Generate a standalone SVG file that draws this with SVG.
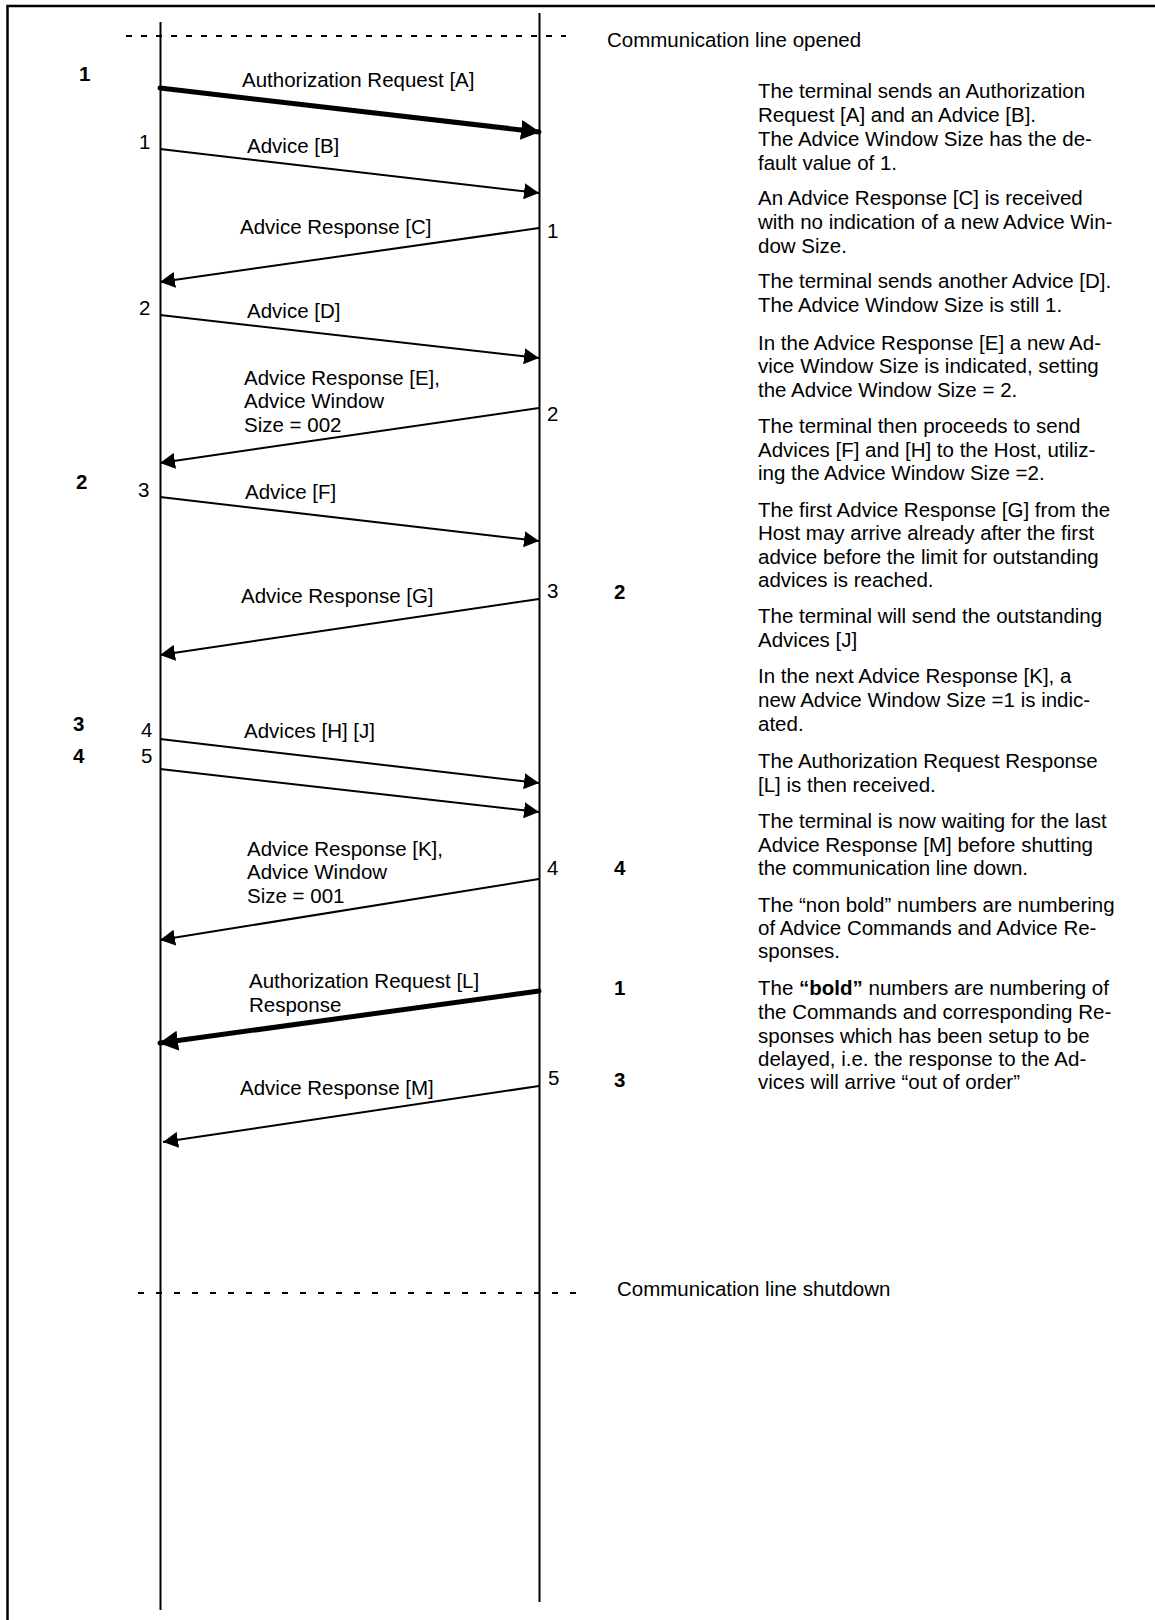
<svg xmlns="http://www.w3.org/2000/svg" width="1155" height="1620" viewBox="0 0 1155 1620">
<style>
text{font-family:"Liberation Sans",Arial,Helvetica,sans-serif;font-size:20.5px;fill:#000}
.b{font-weight:bold}
.life{stroke:#000;stroke-width:2;fill:none}
.msg{stroke:#000;stroke-width:2;fill:none;marker-end:url(#ah)}
.thick{stroke:#000;stroke-width:5;fill:none;stroke-linecap:round;marker-end:url(#ahb)}
.dash{stroke:#000;stroke-width:2;fill:none}
</style>
<defs>
<marker id="ah" markerUnits="userSpaceOnUse" markerWidth="16" markerHeight="16" refX="15" refY="8" orient="auto">
<path d="M0,0 L15,8 L0,16 z" fill="#000"/>
</marker>
<marker id="ahb" markerUnits="userSpaceOnUse" markerWidth="20" markerHeight="22" refX="18" refY="11" orient="auto">
<path d="M0,1 L19,11 L0,21 z" fill="#000"/>
</marker>
</defs>
<rect width="1155" height="1620" fill="#fff"/>
<path d="M7.5,1620 V6 H1155" stroke="#000" stroke-width="2.5" fill="none"/>

<g id="terminal">
<line class="life" x1="160.5" y1="22" x2="160.5" y2="1610"/>
</g>
<g id="host">
<line class="life" x1="539.5" y1="13" x2="539.5" y2="1602"/>
</g>

<g id="line-opened">
<line class="dash" x1="126" y1="36" x2="566" y2="36" stroke-dasharray="6 9"/>
<text x="607" y="47">Communication line opened</text>
</g>
<g id="line-shutdown">
<line class="dash" x1="138" y1="1293" x2="578" y2="1293" stroke-dasharray="6 12"/>
<text x="617" y="1296">Communication line shutdown</text>
</g>

<g id="connectors">
<line id="msg-A" class="thick" x1="160" y1="88" x2="539" y2="132"/>
<line id="msg-B" class="msg" x1="160" y1="149" x2="539" y2="193"/>
<line id="msg-C" class="msg" x1="539" y1="228" x2="160" y2="282"/>
<line id="msg-D" class="msg" x1="160" y1="315" x2="539" y2="358"/>
<line id="msg-E" class="msg" x1="539" y1="408" x2="160" y2="463"/>
<line id="msg-F" class="msg" x1="160" y1="497" x2="539" y2="541"/>
<line id="msg-G" class="msg" x1="539" y1="599" x2="160" y2="655"/>
<line id="msg-H" class="msg" x1="160" y1="739" x2="539" y2="783"/>
<line id="msg-J" class="msg" x1="160" y1="769" x2="539" y2="812"/>
<line id="msg-K" class="msg" x1="539" y1="879" x2="160" y2="940"/>
<line id="msg-L" class="thick" x1="539" y1="991" x2="160" y2="1043"/>
<line id="msg-M" class="msg" x1="539" y1="1086" x2="163" y2="1142"/>
</g>

<g id="message-labels">
<text x="242" y="87">Authorization Request [A]</text>
<text x="247" y="153">Advice [B]</text>
<text x="240" y="234">Advice Response [C]</text>
<text x="247" y="318">Advice [D]</text>
<text x="244" y="385">Advice Response [E],</text>
<text x="244" y="408">Advice Window</text>
<text x="244" y="432">Size = 002</text>
<text x="245" y="499">Advice [F]</text>
<text x="241" y="603">Advice Response [G]</text>
<text x="244" y="738">Advices [H] [J]</text>
<text x="247" y="856">Advice Response [K],</text>
<text x="247" y="879">Advice Window</text>
<text x="247" y="903">Size = 001</text>
<text x="249" y="988">Authorization Request [L]</text>
<text x="249" y="1012">Response</text>
<text x="240" y="1095">Advice Response [M]</text>
</g>

<g id="numbers">
<text class="b" x="79" y="81">1</text>
<text x="139" y="149">1</text>
<text x="547" y="238">1</text>
<text x="139" y="315">2</text>
<text x="547" y="421">2</text>
<text class="b" x="76" y="489">2</text>
<text x="138" y="497">3</text>
<text x="547" y="598">3</text>
<text class="b" x="614" y="599">2</text>
<text class="b" x="73" y="731">3</text>
<text x="141" y="737">4</text>
<text class="b" x="73" y="763">4</text>
<text x="141" y="763">5</text>
<text x="547" y="875">4</text>
<text class="b" x="614" y="875">4</text>
<text class="b" x="614" y="995">1</text>
<text x="548" y="1085">5</text>
<text class="b" x="614" y="1087">3</text>
</g>

<g id="description">
<text x="758" y="98">The terminal sends an Authorization</text>
<text x="758" y="122">Request [A] and an Advice [B].</text>
<text x="758" y="146">The Advice Window Size has the de-</text>
<text x="758" y="170">fault value of 1.</text>
<text x="758" y="205">An Advice Response [C] is received</text>
<text x="758" y="229">with no indication of a new Advice Win-</text>
<text x="758" y="253">dow Size.</text>
<text x="758" y="288">The terminal sends another Advice [D].</text>
<text x="758" y="312">The Advice Window Size is still 1.</text>
<text x="758" y="350">In the Advice Response [E] a new Ad-</text>
<text x="758" y="373">vice Window Size is indicated, setting</text>
<text x="758" y="397">the Advice Window Size = 2.</text>
<text x="758" y="433">The terminal then proceeds to send</text>
<text x="758" y="457">Advices [F] and [H] to the Host, utiliz-</text>
<text x="758" y="480">ing the Advice Window Size =2.</text>
<text x="758" y="517">The first Advice Response [G] from the</text>
<text x="758" y="540">Host may arrive already after the first</text>
<text x="758" y="564">advice before the limit for outstanding</text>
<text x="758" y="587">advices is reached.</text>
<text x="758" y="623">The terminal will send the outstanding</text>
<text x="758" y="647">Advices [J]</text>
<text x="758" y="683">In the next Advice Response [K], a</text>
<text x="758" y="707">new Advice Window Size =1 is indic-</text>
<text x="758" y="731">ated.</text>
<text x="758" y="768">The Authorization Request Response</text>
<text x="758" y="792">[L] is then received.</text>
<text x="758" y="828">The terminal is now waiting for the last</text>
<text x="758" y="852">Advice Response [M] before shutting</text>
<text x="758" y="875">the communication line down.</text>
<text x="758" y="912">The “non bold” numbers are numbering</text>
<text x="758" y="935">of Advice Commands and Advice Re-</text>
<text x="758" y="958">sponses.</text>
<text x="758" y="995">The <tspan class="b">“bold”</tspan> numbers are numbering of</text>
<text x="758" y="1019">the Commands and corresponding Re-</text>
<text x="758" y="1043">sponses which has been setup to be</text>
<text x="758" y="1066">delayed, i.e. the response to the Ad-</text>
<text x="758" y="1089">vices will arrive “out of order”</text>
</g>
</svg>
